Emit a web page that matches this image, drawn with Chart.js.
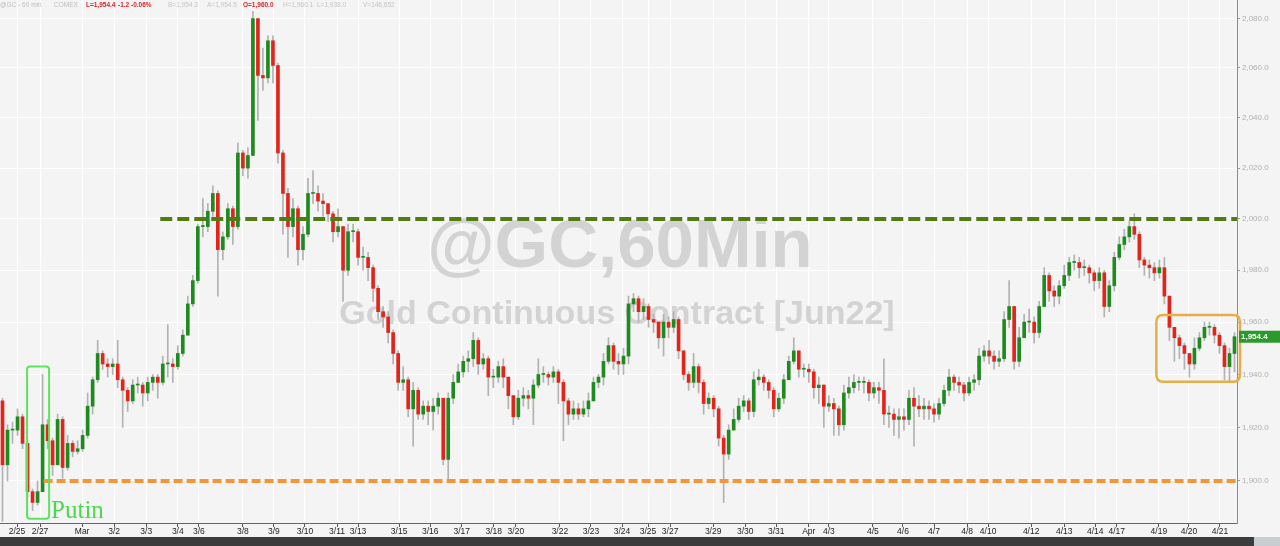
<!DOCTYPE html>
<html>
<head>
<meta charset="utf-8">
<script src="https://cdn.jsdelivr.net/npm/chart.js@4"></script>
<style>
  html, body { margin: 0; padding: 0; background: #f4f4f4; }
  canvas { display: block; }
</style>
</head>
<body>
<canvas id="gcChart" width="1280" height="546"></canvas>
<script>
// @GC 60 min candles (aggregated)
const firstOpen = 1930;
const closes = [
  1906,1919,1919,1924,1914,1896,1892,1896,1921,1915,
  1906,1923,1905,1914,1911,1912,1917,1928,1938,1948,
  1944,1943,1944,1938,1934,1930,1936,1936,1933,1937,
  1939,1937,1944,1944,1943,1948,1955,1967,1976,1997,
  1997,2003,2010,1988,1993,2004,1997,2026,2020,2025,
  2080,2057,2056,2071,2061,2026,2010,1997,2004,1988,
  1994,2010,2010,2007,2006,2002,1995,1997,1980,1995,
  1995,1985,1985,1981,1973,1964,1962,1956,1948,1937,
  1938,1927,1934,1925,1928,1926,1928,1931,1908,1931,
  1937,1941,1945,1946,1953,1944,1946,1939,1939,1943,
  1939,1932,1924,1931,1932,1931,1936,1940,1940,1939,
  1941,1937,1930,1925,1927,1925,1927,1930,1937,1939,
  1945,1951,1945,1944,1947,1967,1969,1964,1966,1961,
  1960,1954,1960,1958,1961,1949,1940,1937,1943,1937,
  1929,1931,1927,1916,1910,1919,1923,1928,1930,1926,
  1938,1939,1937,1934,1927,1931,1938,1945,1949,1942,
  1942,1941,1935,1936,1928,1929,1927,1921,1933,1935,
  1937,1937,1937,1933,1935,1934,1925,1925,1923,1924,
  1923,1931,1928,1927,1928,1927,1925,1929,1934,1939,
  1937,1936,1933,1937,1938,1947,1949,1947,1945,1946,
  1961,1966,1945,1954,1960,1960,1956,1966,1978,1972,
  1970,1974,1978,1983,1983,1981,1981,1979,1976,1979,
  1966,1974,1985,1990,1993,1997,1994,1984,1982,1981,
  1979,1981,1970,1958,1954,1951,1948,1944,1950,1954,
  1958,1958,1955,1951,1943,1948,1954.4
];
const highs = [
  1931,1921,1922,1927,1925,1914,1897,1900,1940,1923,
  1916,1925,1924,1917,1915,1915,1919,1933,1939,1953,
  1949,1946,1946,1953,1939,1935,1938,1939,1937,1939,
  1940,1940,1947,1959,1946,1951,1957,1970,1978,1998,
  2008,2006,2013,2011,1995,2006,2005,2030,2027,2028,
  2083,2080,2068,2073,2073,2062,2027,2012,2008,2005,
  1997,2016,2019,2013,2010,2006,2003,2004,1997,1998,
  1998,1996,1989,1987,1982,1974,1966,1964,1957,1949,
  1943,1939,1937,1935,1930,1930,1931,1933,1931,1933,
  1940,1944,1947,1949,1956,1954,1948,1947,1942,1945,
  1946,1939,1932,1934,1935,1934,1938,1946,1943,1941,
  1943,1942,1938,1931,1930,1929,1930,1933,1939,1940,
  1948,1954,1952,1948,1950,1970,1971,1970,1969,1967,
  1963,1960,1963,1962,1964,1962,1949,1941,1948,1944,
  1938,1933,1932,1928,1917,1921,1927,1931,1932,1931,
  1941,1942,1940,1938,1935,1933,1940,1947,1954,1949,
  1944,1944,1942,1939,1936,1932,1931,1928,1936,1939,
  1940,1939,1939,1938,1937,1937,1946,1928,1927,1927,
  1927,1934,1935,1932,1931,1930,1929,1931,1936,1942,
  1940,1939,1937,1939,1940,1950,1951,1953,1949,1949,
  1964,1976,1966,1958,1963,1965,1962,1968,1981,1979,
  1974,1976,1982,1985,1986,1985,1984,1982,1980,1981,
  1980,1976,1987,1993,1996,1999,2002,1995,1985,1984,
  1983,1984,1985,1970,1958,1955,1952,1948,1954,1956,
  1960,1960,1959,1956,1952,1950,1956
];
const lows = [
  1885,1900,1914,1917,1912,1894,1889,1891,1896,1912,
  1902,1906,1901,1904,1909,1910,1911,1916,1925,1937,
  1942,1939,1940,1935,1920,1926,1929,1933,1928,1930,
  1934,1931,1936,1939,1937,1942,1947,1955,1966,1975,
  1993,1995,2001,1970,1984,1992,1990,1996,2017,2016,
  2025,2039,2051,2054,2054,2022,1994,1985,1993,1982,
  1984,1993,2006,2003,2001,1999,1991,1993,1968,1978,
  1991,1982,1980,1976,1968,1961,1958,1952,1944,1934,
  1934,1924,1913,1923,1923,1921,1919,1925,1906,1900,
  1929,1937,1939,1941,1943,1940,1942,1932,1935,1937,
  1935,1927,1921,1923,1928,1927,1921,1935,1937,1936,
  1937,1929,1915,1921,1923,1923,1924,1924,1930,1935,
  1936,1944,1942,1940,1940,1944,1964,1960,1961,1958,
  1956,1950,1947,1954,1956,1946,1938,1934,1935,1933,
  1925,1927,1924,1913,1892,1908,1919,1922,1926,1923,
  1924,1936,1934,1931,1924,1926,1929,1938,1944,1939,
  1939,1937,1931,1929,1920,1926,1917,1917,1919,1931,
  1933,1934,1933,1930,1931,1929,1921,1920,1917,1916,
  1919,1921,1913,1924,1923,1923,1922,1923,1928,1932,
  1934,1933,1930,1932,1934,1936,1945,1944,1942,1943,
  1945,1958,1942,1943,1954,1956,1952,1954,1966,1968,
  1966,1967,1973,1976,1980,1977,1978,1975,1972,1973,
  1962,1964,1972,1984,1988,1991,1992,1981,1978,1977,
  1976,1977,1967,1953,1945,1946,1942,1939,1942,1949,
  1953,1955,1952,1948,1938,1937,1941
];

// price axis ticks
const tickValues = [1900, 1920, 1940, 1960, 1980, 2000, 2020, 2040, 2060, 2080];
// date ticks (position in candle index units) and their labels
const dateTicks = [2.9, 7.5, 15.9, 22.3, 28.7, 35.0, 39.2, 48.0, 54.2, 60.4, 66.8, 71.0, 79.2, 85.4,
  91.7, 98.1, 102.5, 111.3, 117.5, 123.7, 128.9, 133.3, 141.9, 148.3, 154.5, 161.0, 165.0, 173.8,
  179.8, 186.0, 192.6, 196.8, 205.4, 212.0, 218.2, 222.5, 230.9, 236.9, 243.1];
const dateLabels = ['2/25', '2/27', 'Mar', '3/2', '3/3', '3/4', '3/6', '3/8', '3/9', '3/10', '3/11', '3/13',
  '3/15', '3/16', '3/17', '3/18', '3/20', '3/22', '3/23', '3/24', '3/25', '3/27', '3/29', '3/30', '3/31',
  'Apr', '4/3', '4/5', '4/6', '4/7', '4/8', '4/10', '4/12', '4/13', '4/14', '4/17', '4/19', '4/20', '4/21'];

// levels and marked zones
const resistance = 2000, resistanceFrom = 31.5;
const support = 1900, supportFrom = 8.2;
const putinBox = { x0: 4.9, x1: 9.3, top: 1943, bottom: 1886 };
const recentBox = { x0: 230.4, x1: 247.1, top: 1962.7, bottom: 1937.2 };
const lastPrice = 1954.4;

const header = [
  ['@GC - 60 min', 0, '#bdbdbd', false], ['COMEX', 54, '#bdbdbd', false],
  ['L=1,954.4', 86, '#d8232a', true], ['-1.2', 118, '#d8232a', true], ['-0.06%', 131, '#d8232a', true],
  ['B=1,954.3', 168, '#c4c4c4', false], ['A=1,954.5', 207, '#c4c4c4', false],
  ['O=1,960.0', 243, '#d8232a', true], ['H=1,960.1', 283, '#c4c4c4', false],
  ['L=1,938.0', 317, '#c4c4c4', false], ['V=146,652', 363, '#c4c4c4', false]
];

const idx = closes.map((c, i) => i);
const opens = closes.map((c, i) => i === 0 ? firstOpen : closes[i - 1]);
const bodyColors = idx.map(i => closes[i] >= opens[i] ? '#1f8a1f' : '#e2241b');

function roundRect(ctx, x, y, w, h, r) {
  ctx.beginPath();
  ctx.moveTo(x + r, y);
  ctx.lineTo(x + w - r, y);
  ctx.quadraticCurveTo(x + w, y, x + w, y + r);
  ctx.lineTo(x + w, y + h - r);
  ctx.quadraticCurveTo(x + w, y + h, x + w - r, y + h);
  ctx.lineTo(x + r, y + h);
  ctx.quadraticCurveTo(x, y + h, x, y + h - r);
  ctx.lineTo(x, y + r);
  ctx.quadraticCurveTo(x, y, x + r, y);
  ctx.closePath();
}

const decor = {
  id: 'decor',
  beforeDraw(chart) {
    const { ctx } = chart;
    ctx.save();
    ctx.fillStyle = '#f4f4f4';
    ctx.fillRect(0, 0, chart.width, chart.height);
    ctx.restore();
  },
  beforeDatasetsDraw(chart) {
    const { ctx, chartArea: a } = chart;
    ctx.save();
    ctx.fillStyle = '#d3d3d3';
    ctx.textAlign = 'center';
    ctx.textBaseline = 'middle';
    ctx.font = 'bold 69px "Liberation Sans", Arial, sans-serif';
    ctx.fillText('@GC,60Min', a.left + 620, 248);
    ctx.font = 'bold 34px "Liberation Sans", Arial, sans-serif';
    ctx.fillText('Gold Continuous Contract [Jun22]', a.left + 617, 315);
    ctx.restore();
  },
  afterDatasetsDraw(chart) {
    const { ctx, chartArea: a, scales: { x, y } } = chart;
    ctx.save();
    ctx.lineWidth = 4;
    ctx.setLineDash([12, 5]);
    ctx.strokeStyle = '#4f7d12';
    let py = y.getPixelForValue(resistance);
    ctx.beginPath();
    ctx.moveTo(x.getPixelForValue(resistanceFrom), py);
    ctx.lineTo(a.right, py);
    ctx.stroke();
    ctx.setLineDash([9, 4]);
    ctx.strokeStyle = '#f3953a';
    py = y.getPixelForValue(support);
    ctx.beginPath();
    ctx.moveTo(x.getPixelForValue(supportFrom), py);
    ctx.lineTo(a.right, py);
    ctx.stroke();
    ctx.setLineDash([]);

    // Putin box
    let bx0 = x.getPixelForValue(putinBox.x0), bx1 = x.getPixelForValue(putinBox.x1);
    let by0 = y.getPixelForValue(putinBox.top), by1 = y.getPixelForValue(putinBox.bottom);
    ctx.lineWidth = 2;
    ctx.strokeStyle = '#5ee35e';
    roundRect(ctx, bx0, by0, bx1 - bx0, by1 - by0, 3);
    ctx.stroke();
    ctx.fillStyle = '#4cd84c';
    ctx.font = '25px "Liberation Serif", "Times New Roman", serif';
    ctx.textAlign = 'left';
    ctx.textBaseline = 'alphabetic';
    ctx.fillText('Putin', bx1 + 2, by1 - 1);

    // recent range box
    bx0 = x.getPixelForValue(recentBox.x0); bx1 = x.getPixelForValue(recentBox.x1);
    by0 = y.getPixelForValue(recentBox.top); by1 = y.getPixelForValue(recentBox.bottom);
    ctx.lineWidth = 2.5;
    ctx.strokeStyle = '#e8ad45';
    roundRect(ctx, bx0, by0, bx1 - bx0, by1 - by0, 7);
    ctx.stroke();
    ctx.restore();
  },
  afterDraw(chart) {
    const { ctx, chartArea: a, scales: { y } } = chart;
    ctx.save();
    // header line
    ctx.textBaseline = 'middle';
    ctx.textAlign = 'left';
    header.forEach(([t, px, col, bold]) => {
      ctx.font = (bold ? 'bold ' : '') + '6.5px "Liberation Sans", Arial, sans-serif';
      ctx.fillStyle = col;
      ctx.fillText(t, px, 5);
    });
    // last price tag
    const py = y.getPixelForValue(lastPrice);
    ctx.fillStyle = '#2a9a2a';
    ctx.fillRect(a.right + 2, py - 6, chart.width - a.right - 2, 12);
    ctx.fillStyle = '#ffffff';
    ctx.font = 'bold 8px "Liberation Sans", Arial, sans-serif';
    ctx.fillText(lastPrice.toLocaleString('en-US', { minimumFractionDigits: 1 }), a.right + 4, py + 0.5);
    // bottom bar
    ctx.fillStyle = '#3b3b3b';
    ctx.fillRect(0, 537, chart.width, chart.height - 537);
    ctx.fillStyle = '#c9cdd1';
    ctx.fillRect(1254, 537, chart.width - 1254, chart.height - 537);
    ctx.restore();
  }
};

new Chart(document.getElementById('gcChart'), {
  type: 'bar',
  data: {
    datasets: [
      {
        label: 'wick',
        data: idx.map(i => ({ x: i, y: [lows[i], highs[i]] })),
        backgroundColor: '#b2b2b2',
        barThickness: 1,
        grouped: false,
        order: 2
      },
      {
        label: 'body',
        data: idx.map(i => ({ x: i, y: [opens[i], closes[i]] })),
        backgroundColor: bodyColors,
        barThickness: 3,
        minBarLength: 1,
        grouped: false,
        order: 1
      }
    ]
  },
  options: {
    responsive: false,
    animation: false,
    devicePixelRatio: 1,
    layout: { padding: 0 },
    plugins: { legend: { display: false }, tooltip: { enabled: false } },
    scales: {
      x: {
        type: 'linear',
        offset: false,
        min: -0.5,
        max: 246.5,
        afterBuildTicks: s => { s.ticks = dateTicks.map(v => ({ value: v })); },
        afterFit: s => { s.height = 23; s.paddingLeft = 0; s.paddingRight = 0; },
        ticks: {
          autoSkip: false,
          maxRotation: 0,
          padding: 0,
          color: '#222',
          font: { family: '"Liberation Sans", Arial, sans-serif', size: 8.5 },
          callback: (v, i) => dateLabels[i]
        },
        grid: { offset: false, color: '#ffffff', tickColor: '#555', tickLength: 4 },
        border: { color: '#666' }
      },
      y: {
        type: 'logarithmic',
        position: 'right',
        min: 1884.4,
        max: 2087.6,
        afterBuildTicks: s => { s.ticks = tickValues.map(v => ({ value: v })); },
        afterFit: s => { s.width = 43; s.paddingTop = 0; s.paddingBottom = 0; },
        ticks: {
          padding: 2,
          color: '#b0b0b0',
          font: { family: '"Liberation Sans", Arial, sans-serif', size: 8 },
          callback: v => v.toLocaleString('en-US', { minimumFractionDigits: 1 })
        },
        grid: { color: '#ffffff', tickColor: '#999', tickLength: 3 },
        border: { color: '#8c8c8c' }
      }
    }
  },
  plugins: [decor]
});
</script>
</body>
</html>
